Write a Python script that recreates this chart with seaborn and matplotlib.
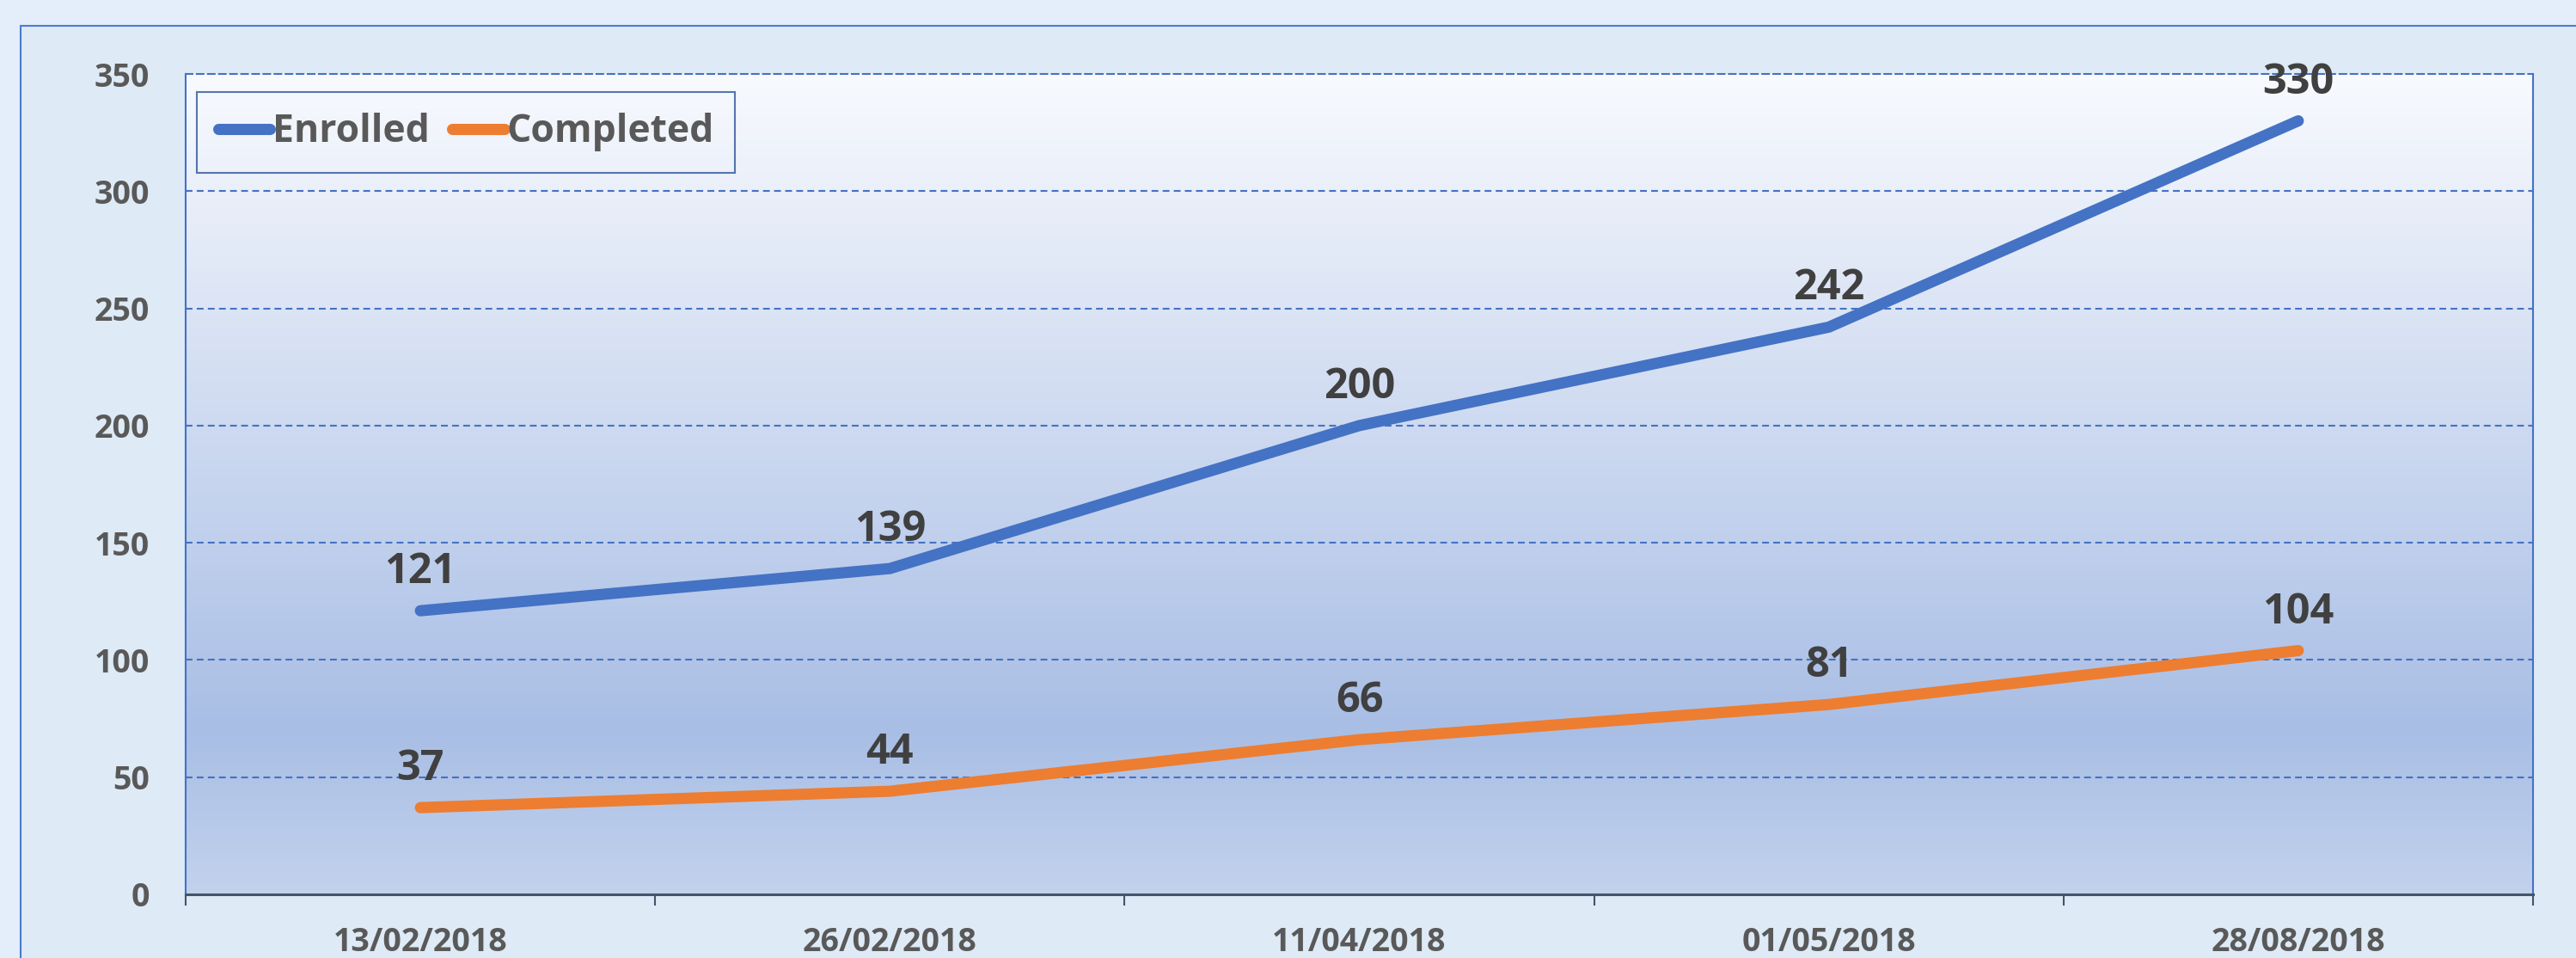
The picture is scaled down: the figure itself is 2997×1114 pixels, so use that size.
import numpy as np
import pandas as pd
import matplotlib
matplotlib.use("Agg")
import matplotlib.pyplot as plt
import seaborn as sns
from matplotlib.colors import LinearSegmentedColormap
from matplotlib.patches import Rectangle

dates = ["13/02/2018", "26/02/2018", "11/04/2018", "01/05/2018", "28/08/2018"]
enrolled = [121, 139, 200, 242, 330]
completed = [37, 44, 66, 81, 104]
series_names = ["Enrolled", "Completed"]
series_colors = ["#4472C4", "#ED7D31"]
y_ticks = [0, 50, 100, 150, 200, 250, 300, 350]

sns.set_theme(style="white")
plt.rcParams["font.family"] = ["Liberation Sans Narrow", "Open Sans", "DejaVu Sans"]
plt.rcParams["font.weight"] = "bold"

df = pd.DataFrame({
    "date": dates * 2,
    "value": enrolled + completed,
    "series": [series_names[0]] * len(dates) + [series_names[1]] * len(dates),
})

W, H = 2997, 1114
fig = plt.figure(figsize=(W / 100, H / 100), dpi=100)
fig.patch.set_facecolor("#E4EEFA")

# outer chart-area frame
fig.patches.append(Rectangle((24 / W, -0.1), 1.2, 1 - 30 / H + 0.1, transform=fig.transFigure,
                             facecolor="#DEEAF6", edgecolor="#4A7BD0", linewidth=1.5, zorder=-10))

left, right, top, bottom = 216, 2947, 86, 1040
ax = fig.add_axes([left / W, 1 - bottom / H, (right - left) / W, (bottom - top) / H])
ax.set_facecolor("none")

# gradient plot area fill
grad = LinearSegmentedColormap.from_list(
    "bg", [(0.0, "#C2D2ED"), (0.2, "#A9BEE5"), (1.0, "#F8FAFE")])
ax.imshow(np.linspace(0, 1, 256).reshape(-1, 1), cmap=grad, origin="lower", aspect="auto",
          extent=[0, 1, 0, 1], transform=ax.transAxes, zorder=0)

sns.lineplot(data=df, x="date", y="value", hue="series", palette=series_colors,
             linewidth=9.4, sort=False, legend=False, ax=ax, zorder=3)
for ln in ax.lines:
    ln.set_solid_capstyle("round")
    ln.set_solid_joinstyle("round")

ax.set_xlim(-0.5, len(dates) - 0.5)
ax.set_ylim(0, 350)
ax.set_yticks(y_ticks)
ax.set_xticks(range(len(dates)))
ax.set_xticklabels(dates)
ax.set_xticks(np.arange(-0.5, len(dates)), minor=True)
ax.set_xlabel("")
ax.set_ylabel("")

ax.grid(False)
for yv in y_ticks[1:-1]:
    ax.axhline(yv, color="#4472C4", linewidth=1.5, dashes=(3.8, 2.4), zorder=1)

for side in ["left", "right"]:
    ax.spines[side].set_color("#4472C4")
    ax.spines[side].set_linewidth(1.5)
ax.spines["top"].set_color("#4472C4")
ax.spines["top"].set_linewidth(1.5)
ax.spines["top"].set_linestyle((0, (3.8, 2.4)))
ax.spines["bottom"].set_color("#44546A")
ax.spines["bottom"].set_linewidth(2.2)
ax.spines["bottom"].set_zorder(4)

ax.tick_params(axis="y", length=0, pad=30, labelsize=27, labelcolor="#595959")
ax.tick_params(axis="x", which="major", bottom=True, length=0, pad=27, labelsize=27,
               labelcolor="#595959")
ax.tick_params(axis="x", which="minor", bottom=True, length=9.4, width=1.5, color="#44546A",
               direction="out")
for lab in ax.get_xticklabels() + ax.get_yticklabels():
    lab.set_fontweight("bold")

# data labels above each point
for vals in [enrolled, completed]:
    for i, v in enumerate(vals):
        ax.annotate(str(v), (i, v), xytext=(0, 32), textcoords="offset points",
                    ha="center", va="center", fontsize=35, fontweight="bold",
                    color="#404040", zorder=5)

leg = ax.legend(ax.lines[:2], series_names, loc="upper left", bbox_to_anchor=(0.0048, 0.978),
                borderaxespad=0, ncol=2, handlelength=1.37, handletextpad=0.05,
                columnspacing=0.6, borderpad=0.55, frameon=True, fancybox=False,
                labelcolor="#595959", prop={"weight": "bold", "size": 32})
leg.get_frame().set_edgecolor("#2F5597")
leg.get_frame().set_linewidth(1.5)
leg.get_frame().set_facecolor("none")

fig.savefig("out.png", dpi=100, facecolor=fig.get_facecolor())
